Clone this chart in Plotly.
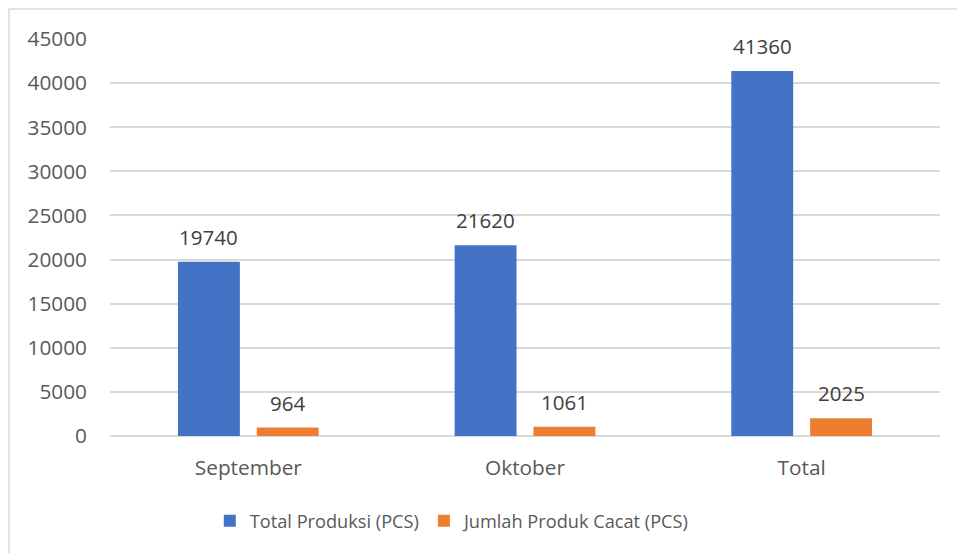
import plotly.graph_objects as go

# Production and defect counts per period
categories = ["September", "Oktober", "Total"]
total_produksi = [19740, 21620, 41360]
produk_cacat = [964, 1061, 2025]
series_names = ["Total Produksi (PCS)", "Jumlah Produk Cacat (PCS)"]
y_ticks = [0, 5000, 10000, 15000, 20000, 25000, 30000, 35000, 40000, 45000]

BLUE = "#4472C4"
ORANGE = "#ED7D31"
FONT = "Open Sans"
TICK_COLOR = "#595959"
LABEL_COLOR = "#404040"
GRID = "#D9D9D9"

fig = go.Figure()
fig.add_trace(go.Bar(x=categories, y=total_produksi, name=series_names[0],
                     marker=dict(color=BLUE, line=dict(width=0))))
fig.add_trace(go.Bar(x=categories, y=produk_cacat, name=series_names[1],
                     marker=dict(color=ORANGE, line=dict(width=0))))

# Value labels above each bar, offset to the bar's slot in its group
annotations = []
for values, shift in ((total_produksi, -39.5), (produk_cacat, 39.5)):
    for cat, v in zip(categories, values):
        annotations.append(dict(
            x=cat, y=v, xref="x", yref="y", text=str(v), showarrow=False,
            xshift=shift, yshift=25, yanchor="middle", xanchor="center",
            font=dict(family=FONT, size=20.5, color=LABEL_COLOR)))

fig.update_layout(
    width=957, height=553,
    margin=dict(l=110, r=17, t=39, b=117),
    paper_bgcolor="white", plot_bgcolor="white",
    barmode="group", bargap=0.43, bargroupgap=0.215,
    font=dict(family=FONT, size=20, color=TICK_COLOR),
    showlegend=True,
    legend=dict(orientation="h", x=0.413, xanchor="center", y=-0.214, yanchor="middle",
                font=dict(family=FONT, size=18.2, color=TICK_COLOR),
                itemwidth=30, traceorder="normal"),
    annotations=annotations,
    shapes=[dict(type="rect", xref="paper", yref="paper",
                 x0=-0.1217, x1=1.04, y0=-0.33, y1=1.0756,
                 line=dict(color=GRID, width=1.5), fillcolor="rgba(0,0,0,0)",
                 layer="below")],
)
fig.update_xaxes(showgrid=False, showline=False, zeroline=False, ticks="",
                 ticklabelstandoff=17, tickfont=dict(size=20.8, color=TICK_COLOR))
fig.update_yaxes(range=[0, 45000], tickvals=y_ticks, ticktext=[str(t) for t in y_ticks],
                 showgrid=True, gridcolor=GRID, gridwidth=1.5,
                 zeroline=True, zerolinecolor=GRID, zerolinewidth=1.5,
                 showline=False, ticks="", ticklabelstandoff=22,
                 tickfont=dict(size=20.8, color=TICK_COLOR))

fig.write_html("out.html")
